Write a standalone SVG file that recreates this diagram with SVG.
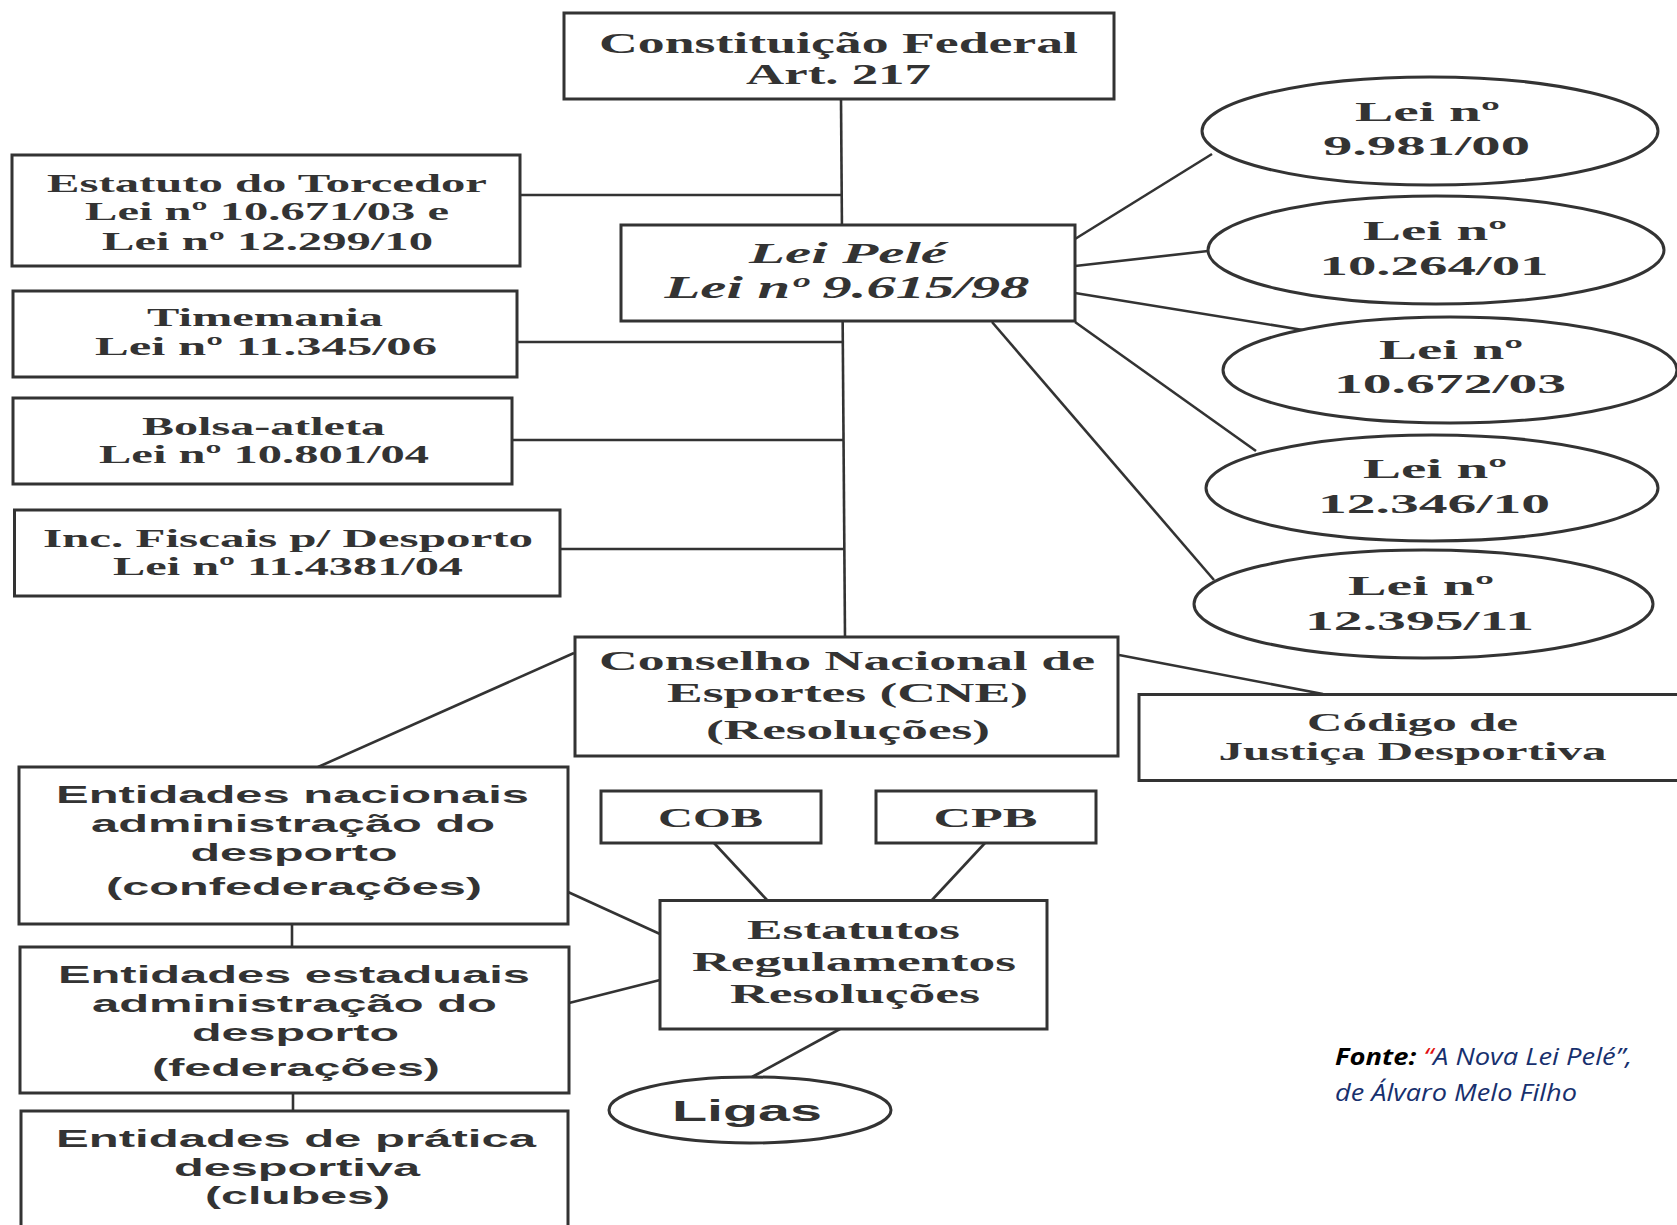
<svg xmlns="http://www.w3.org/2000/svg" width="1677" height="1225" viewBox="0 0 1677 1225">
<style>
.box{fill:#fff;stroke:#333;stroke-width:3}
.ell{fill:#fff;stroke:#333;stroke-width:3}
.ln{stroke:#333;stroke-width:2.6;fill:none}
.s{font-family:"Liberation Serif","Times New Roman",serif;font-weight:bold;fill:#333;text-anchor:middle}
.si{font-family:"Liberation Serif","Times New Roman",serif;font-weight:bold;font-style:italic;fill:#333;text-anchor:middle}
.a{font-family:"Liberation Sans",Arial,sans-serif;font-weight:bold;fill:#333;text-anchor:middle}
.f{font-family:"Open Sans","Liberation Sans",sans-serif;font-style:italic;font-size:23px}
</style>
<rect width="1677" height="1225" fill="#fff"/>
<g id="connectors">
<line class="ln" x1="841" y1="99" x2="845" y2="637"/>
<line class="ln" x1="520" y1="195" x2="842" y2="195"/>
<line class="ln" x1="517" y1="342" x2="843" y2="342"/>
<line class="ln" x1="512" y1="440" x2="843" y2="440"/>
<line class="ln" x1="560" y1="549" x2="844" y2="549"/>
<line class="ln" x1="1075" y1="239" x2="1212" y2="154"/>
<line class="ln" x1="1075" y1="266" x2="1208" y2="251"/>
<line class="ln" x1="1075" y1="293" x2="1309" y2="331"/>
<line class="ln" x1="1075" y1="322" x2="1256" y2="451"/>
<line class="ln" x1="992" y1="322" x2="1214" y2="580"/>
<line class="ln" x1="574" y1="653" x2="318" y2="767"/>
<line class="ln" x1="1119" y1="655" x2="1323" y2="694"/>
<line class="ln" x1="714" y1="843" x2="767" y2="900"/>
<line class="ln" x1="985" y1="843" x2="932" y2="900"/>
<line class="ln" x1="568" y1="892" x2="660" y2="934"/>
<line class="ln" x1="569" y1="1003" x2="660" y2="980"/>
<line class="ln" x1="840" y1="1029" x2="752" y2="1077"/>
<line class="ln" x1="292" y1="924" x2="292" y2="947"/>
<line class="ln" x1="293" y1="1093" x2="293" y2="1111"/>
</g>
<g id="constituicao">
<rect class="box" x="564" y="13" width="550" height="86"/>
<text class="s" font-size="30" x="838.5" y="53" textLength="479" lengthAdjust="spacingAndGlyphs">Constituição Federal</text>
<text class="s" font-size="30" x="838.5" y="84" textLength="185" lengthAdjust="spacingAndGlyphs">Art. 217</text>
</g>
<g id="estatuto">
<rect class="box" x="12" y="155" width="508" height="111"/>
<text class="s" font-size="26" x="267" y="192" textLength="440" lengthAdjust="spacingAndGlyphs">Estatuto do Torcedor</text>
<text class="s" font-size="26" x="267" y="220" textLength="364" lengthAdjust="spacingAndGlyphs">Lei nº 10.671/03 e</text>
<text class="s" font-size="26" x="267.5" y="250" textLength="331" lengthAdjust="spacingAndGlyphs">Lei nº 12.299/10</text>
</g>
<g id="timemania">
<rect class="box" x="13" y="291" width="504" height="86"/>
<text class="s" font-size="26" x="265" y="326" textLength="236" lengthAdjust="spacingAndGlyphs">Timemania</text>
<text class="s" font-size="26" x="266" y="355" textLength="342" lengthAdjust="spacingAndGlyphs">Lei nº 11.345/06</text>
</g>
<g id="bolsa">
<rect class="box" x="13" y="398" width="499" height="86"/>
<text class="s" font-size="26" x="263.5" y="435" textLength="243" lengthAdjust="spacingAndGlyphs">Bolsa-atleta</text>
<text class="s" font-size="26" x="264" y="463" textLength="330" lengthAdjust="spacingAndGlyphs">Lei nº 10.801/04</text>
</g>
<g id="incentivos">
<rect class="box" x="14.5" y="510" width="545.5" height="86"/>
<text class="s" font-size="26" x="288" y="547" textLength="490" lengthAdjust="spacingAndGlyphs">Inc. Fiscais p/ Desporto</text>
<text class="s" font-size="26" x="288" y="575" textLength="350" lengthAdjust="spacingAndGlyphs">Lei nº 11.4381/04</text>
</g>
<g id="leipele">
<rect class="box" x="621" y="225" width="454" height="96"/>
<text class="si" font-size="29" x="848" y="263" textLength="198" lengthAdjust="spacingAndGlyphs">Lei Pelé</text>
<text class="si" font-size="31" x="847" y="298" textLength="365" lengthAdjust="spacingAndGlyphs">Lei nº 9.615/98</text>
</g>
<g id="lei9981">
<ellipse class="ell" cx="1430" cy="131" rx="228" ry="54"/>
<text class="s" font-size="28" x="1427.5" y="121" textLength="145" lengthAdjust="spacingAndGlyphs">Lei nº</text>
<text class="s" font-size="28" x="1426.5" y="155" textLength="207" lengthAdjust="spacingAndGlyphs">9.981/00</text>
</g>
<g id="lei10264">
<ellipse class="ell" cx="1436" cy="250" rx="228" ry="54"/>
<text class="s" font-size="28" x="1435" y="240" textLength="144" lengthAdjust="spacingAndGlyphs">Lei nº</text>
<text class="s" font-size="28" x="1434" y="275" textLength="229" lengthAdjust="spacingAndGlyphs">10.264/01</text>
</g>
<g id="lei10672">
<ellipse class="ell" cx="1450" cy="370" rx="227" ry="53"/>
<text class="s" font-size="28" x="1451" y="359" textLength="144" lengthAdjust="spacingAndGlyphs">Lei nº</text>
<text class="s" font-size="28" x="1450" y="393" textLength="232" lengthAdjust="spacingAndGlyphs">10.672/03</text>
</g>
<g id="lei12346">
<ellipse class="ell" cx="1432" cy="488" rx="226" ry="53"/>
<text class="s" font-size="28" x="1435" y="478" textLength="144" lengthAdjust="spacingAndGlyphs">Lei nº</text>
<text class="s" font-size="28" x="1434" y="513" textLength="232" lengthAdjust="spacingAndGlyphs">12.346/10</text>
</g>
<g id="lei12395">
<ellipse class="ell" cx="1423.5" cy="604" rx="229.5" ry="54"/>
<text class="s" font-size="28" x="1421" y="594.5" textLength="146" lengthAdjust="spacingAndGlyphs">Lei nº</text>
<text class="s" font-size="28" x="1419.5" y="630" textLength="229" lengthAdjust="spacingAndGlyphs">12.395/11</text>
</g>
<g id="cne">
<rect class="box" x="575" y="637" width="543" height="119"/>
<text class="s" font-size="28" x="847" y="670" textLength="496" lengthAdjust="spacingAndGlyphs">Conselho Nacional de</text>
<text class="s" font-size="28" x="847.5" y="702" textLength="361" lengthAdjust="spacingAndGlyphs">Esportes (CNE)</text>
<text class="s" font-size="28" x="848" y="739" textLength="284" lengthAdjust="spacingAndGlyphs">(Resoluções)</text>
</g>
<g id="codigo">
<rect class="box" x="1139" y="694.5" width="560" height="86"/>
<text class="s" font-size="25" x="1412.5" y="731" textLength="211" lengthAdjust="spacingAndGlyphs">Código de</text>
<text class="s" font-size="25" x="1412.5" y="760" textLength="388" lengthAdjust="spacingAndGlyphs">Justiça Desportiva</text>
</g>
<g id="cob">
<rect class="box" x="601" y="791" width="220" height="52"/>
<text class="s" font-size="28" x="710.5" y="827" textLength="105" lengthAdjust="spacingAndGlyphs">COB</text>
</g>
<g id="cpb">
<rect class="box" x="876" y="791" width="220" height="52"/>
<text class="s" font-size="28" x="985.5" y="827" textLength="104" lengthAdjust="spacingAndGlyphs">CPB</text>
</g>
<g id="estatutos">
<rect class="box" x="660" y="900.5" width="387" height="128.5"/>
<text class="s" font-size="27" x="853.5" y="939" textLength="213" lengthAdjust="spacingAndGlyphs">Estatutos</text>
<text class="s" font-size="27" x="854" y="971" textLength="324" lengthAdjust="spacingAndGlyphs">Regulamentos</text>
<text class="s" font-size="27" x="855" y="1003" textLength="250" lengthAdjust="spacingAndGlyphs">Resoluções</text>
</g>
<g id="nacionais">
<rect class="box" x="19" y="767" width="549" height="157"/>
<text class="a" font-size="24" x="292.5" y="803" textLength="473" lengthAdjust="spacingAndGlyphs">Entidades nacionais</text>
<text class="a" font-size="24" x="293" y="832" textLength="404" lengthAdjust="spacingAndGlyphs">administração do</text>
<text class="a" font-size="24" x="294" y="861" textLength="207" lengthAdjust="spacingAndGlyphs">desporto</text>
<text class="a" font-size="24" x="294" y="895" textLength="376" lengthAdjust="spacingAndGlyphs">(confederações)</text>
</g>
<g id="estaduais">
<rect class="box" x="20" y="947" width="549" height="146"/>
<text class="a" font-size="24" x="294" y="983" textLength="472" lengthAdjust="spacingAndGlyphs">Entidades estaduais</text>
<text class="a" font-size="24" x="294.5" y="1012" textLength="405" lengthAdjust="spacingAndGlyphs">administração do</text>
<text class="a" font-size="24" x="295.5" y="1041" textLength="207" lengthAdjust="spacingAndGlyphs">desporto</text>
<text class="a" font-size="24" x="296" y="1076" textLength="288" lengthAdjust="spacingAndGlyphs">(federações)</text>
</g>
<g id="pratica">
<rect class="box" x="21" y="1111" width="547" height="140"/>
<text class="a" font-size="24" x="296" y="1147" textLength="480" lengthAdjust="spacingAndGlyphs">Entidades de prática</text>
<text class="a" font-size="24" x="297" y="1176" textLength="246" lengthAdjust="spacingAndGlyphs">desportiva</text>
<text class="a" font-size="24" x="297.5" y="1204" textLength="185" lengthAdjust="spacingAndGlyphs">(clubes)</text>
</g>
<g id="ligas">
<ellipse class="ell" cx="750" cy="1110" rx="141" ry="33"/>
<text class="a" font-size="29" x="747" y="1121" textLength="150" lengthAdjust="spacingAndGlyphs">Ligas</text>
</g>
<g id="fonte">
<text class="f" x="1335" y="1065" textLength="297" lengthAdjust="spacingAndGlyphs"><tspan font-weight="bold" fill="#000">Fonte:</tspan><tspan fill="#e01010"> “</tspan><tspan fill="#17306e">A Nova Lei Pelé”,</tspan></text>
<text class="f" x="1335" y="1101" fill="#17306e" textLength="242" lengthAdjust="spacingAndGlyphs">de Álvaro Melo Filho</text>
</g>
</svg>
